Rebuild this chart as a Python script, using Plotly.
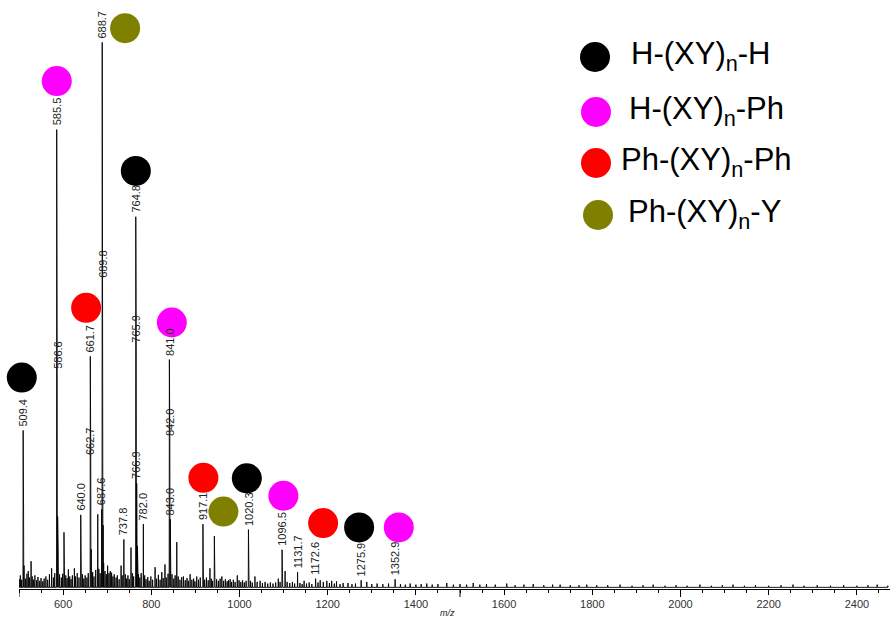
import plotly.graph_objects as go

# ---------------- data ----------------
peak_mz = [500.5, 503, 506, 509.4, 510.4, 511.4, 515, 518, 521, 524, 527.4, 530, 533, 536, 540, 543, 547, 550,
           554, 557, 561, 565, 569, 574, 578, 581, 585.5, 586.6, 587.6, 589, 592, 596, 599, 602, 603, 606, 609,
           612, 615, 618, 621, 625.6, 628, 632, 636, 640.0, 641, 644, 647, 650, 654, 657, 661.7, 662.7, 663.7,
           667, 670, 674, 678.6, 681, 684, 687.6, 688.7, 689.8, 690.8, 692, 695, 698, 701, 704, 707, 710, 713,
           716, 720, 723, 727, 731.5, 734, 737.8, 741, 744, 747, 750, 754, 757, 760, 764.8, 765.9, 766.9, 768.5,
           771, 774, 777, 782.0, 785, 788, 792, 795, 799, 803, 808.6, 812, 816, 820, 823.8, 827, 831, 834, 838,
           841.0, 842.0, 843.0, 844, 847, 851, 854, 857.8, 861, 865, 869, 873, 877, 881, 884, 888, 892, 896, 899,
           903, 907, 911, 917.1, 918, 921, 925, 929, 933, 936, 939, 943, 944, 948, 952, 956, 960, 964, 968, 972,
           975, 978.7, 982, 986, 990, 995, 999, 1003, 1007, 1011, 1015, 1020.3, 1021.3, 1025, 1029, 1035, 1040,
           1046.7, 1052, 1058, 1064, 1070, 1076, 1082, 1088, 1092, 1096.5, 1097.5, 1103.4, 1108, 1114, 1120, 1125,
           1131.7, 1137, 1142, 1146.5, 1152, 1158, 1164, 1172.6, 1178, 1183, 1190, 1198, 1204, 1209, 1215, 1220,
           1228, 1235, 1246, 1255, 1263, 1275.9, 1288.6, 1300, 1312, 1325, 1338, 1352.9, 1365, 1376, 1387, 1400,
           1412, 1424.7, 1437, 1450, 1470, 1485, 1500, 1515, 1530, 1545, 1560, 1580, 1606, 1625, 1645, 1666, 1690,
           1710, 1727, 1750, 1770, 1787.5, 1810, 1835, 1863, 1890, 1915, 1938, 1965, 1990, 2015, 2044, 2070, 2095,
           2119, 2145, 2170, 2200, 2228, 2255, 2280, 2310, 2340, 2370, 2400, 2425, 2446, 2470]
peak_rel = [1.5, 2.2, 1.4, 28.8, 13.1, 4.0, 1.6, 2.5, 3.0, 1.8, 4.8, 2.0, 1.4, 2.2, 1.3, 1.9, 1.2, 1.7,
            1.1, 1.6, 2.0, 1.4, 2.4, 3.5, 1.8, 2.6, 84.0, 39.4, 13.0, 6.7, 2.4, 1.8, 2.5, 10.1, 4.0, 2.2, 1.7,
            3.3, 2.0, 1.5, 2.2, 3.5, 2.0, 2.6, 1.8, 13.3, 5.0, 2.4, 1.6, 2.2, 1.8, 2.6, 42.4, 23.5, 7.0,
            2.8, 2.0, 3.2, 13.4, 3.4, 2.6, 14.3, 100.0, 56.0, 11.4, 4.5, 3.0, 2.4, 4.0, 2.6, 3.0, 2.7, 2.0,
            2.4, 1.8, 2.2, 1.5, 4.0, 2.2, 8.8, 2.4, 1.6, 2.2, 1.5, 7.3, 2.6, 2.0, 68.0, 44.2, 19.1, 7.6,
            2.4, 1.8, 2.6, 11.6, 2.2, 1.5, 1.9, 1.2, 2.0, 1.4, 3.7, 1.6, 2.3, 1.4, 2.8, 1.7, 4.2, 1.8, 2.5,
            41.8, 27.0, 12.5, 4.5, 2.4, 1.6, 2.2, 8.3, 2.0, 1.4, 1.9, 2.0, 1.3, 1.7, 1.2, 2.4, 1.4, 1.6, 1.1,
            2.0, 1.4, 1.8, 11.6, 3.5, 1.4, 1.8, 1.3, 3.5, 1.6, 1.2, 9.4, 3.0, 1.5, 1.2, 1.6, 2.0, 1.2, 1.5, 1.1,
            1.3, 1.5, 1.0, 1.4, 1.0, 2.2, 1.3, 1.0, 1.3, 0.9, 1.2, 10.6, 3.5, 1.2, 0.9, 2.0, 1.0,
            1.2, 0.8, 1.0, 0.7, 0.9, 0.7, 0.9, 1.6, 1.0, 6.9, 2.5, 3.0, 1.0, 0.8, 1.0, 0.7,
            2.8, 0.8, 0.6, 1.2, 0.7, 0.9, 0.6, 1.6, 0.9, 1.3, 1.0, 1.2, 0.8, 1.2, 0.7, 1.1,
            0.6, 0.8, 0.8, 0.6, 0.7, 1.3, 1.0, 0.6, 0.7, 0.6, 0.7, 1.5, 0.6, 0.5, 0.7, 0.5,
            0.6, 0.7, 0.5, 0.6, 0.8, 0.5, 0.6, 0.5, 0.8, 0.5, 0.6, 0.5, 0.7, 0.4, 0.5, 0.6, 0.4,
            0.5, 0.5, 0.4, 0.4, 0.5, 0.4, 0.4, 0.5, 0.3, 0.4, 0.5, 0.3, 0.4, 0.3, 0.5, 0.3, 0.4,
            0.5, 0.3, 0.4, 0.3, 0.4, 0.5, 0.3, 0.4, 0.3, 0.4, 0.3, 0.4, 0.5, 0.3]

label_mz = [509.4, 585.5, 586.6, 640.0, 661.7, 662.7, 687.6, 688.7, 689.8, 737.8, 764.8, 765.9, 766.9, 782.0,
            841.0, 842.0, 843.0, 917.1, 1020.3, 1096.5, 1131.7, 1172.6, 1275.9, 1352.9]

species_names = ["H-(XY)<sub>n</sub>-H", "H-(XY)<sub>n</sub>-Ph", "Ph-(XY)<sub>n</sub>-Ph", "Ph-(XY)<sub>n</sub>-Y"]
species_colors = ["#000000", "#FF00FF", "#FF0000", "#808000"]
species_mz = [[506.3, 764.9, 1016.6, 1271.2],
              [585.7, 846.5, 1099.5, 1361.2],
              [652.2, 918.1, 1189.6],
              [740.6, 963.5]]
species_y = [[38.5, 76.4, 20.0, 11.0],
             [92.9, 48.6, 16.8, 11.0],
             [51.3, 20.1, 11.8],
             [102.6, 13.9]]

x_ticks = [600, 800, 1000, 1200, 1400, 1600, 1800, 2000, 2200, 2400]
x_long_ticks = [500, 1000, 1500, 2000]

# ---------------- figure ----------------
W, H = 890, 621
L, R, T, B = 19, 0, 0, 32
PW, PH = W - L - R, H - T - B

def px_x(px):
    return (px - L) / PW

def px_y(py):
    return (H - B - py) / PH

# spectrum as a connected stick profile
order = sorted(range(len(peak_mz)), key=lambda i: peak_mz[i])
xs, ys = [], []
for i in order:
    m, h = peak_mz[i], peak_rel[i]
    xs += [m - 0.45, m, m + 0.45]
    ys += [0, h, 0]

fig = go.Figure()
fig.add_trace(go.Scatter(x=xs, y=ys, mode="lines", line=dict(color="#000000", width=0.9),
                         hoverinfo="skip", showlegend=False))

for name, col, mx, my in zip(species_names, species_colors, species_mz, species_y):
    fig.add_trace(go.Scatter(x=mx, y=my, mode="markers", cliponaxis=False,
                             marker=dict(size=30, color=col, line=dict(width=0)),
                             name=name, showlegend=False))

# peak labels
annotations = []
for lm in label_mz:
    idx = min(range(len(peak_mz)), key=lambda i: abs(peak_mz[i] - lm))
    annotations.append(dict(x=lm, y=peak_rel[idx], xref="x", yref="y", text=f"{lm:.1f}",
                            textangle=-90, showarrow=False, xanchor="center", yanchor="bottom",
                            yshift=2, font=dict(family="Liberation Sans, Arial", size=11, color="#222222")))

# legend (manual)
leg_cx = [595, 596, 596, 598]
leg_cy = [57, 112, 163, 215]
leg_tx = [629, 627, 619, 626]
shapes = []
for name, col, cx, cy, tx in zip(species_names, species_colors, leg_cx, leg_cy, leg_tx):
    shapes.append(dict(type="circle", xref="paper", yref="paper",
                       x0=px_x(cx - 15), x1=px_x(cx + 15), y0=px_y(cy + 15), y1=px_y(cy - 15),
                       fillcolor=col, line=dict(width=0)))
    annotations.append(dict(x=px_x(tx), y=px_y(cy), xref="paper", yref="paper", text=name,
                            showarrow=False, xanchor="left", yanchor="middle", yshift=1,
                            font=dict(family="Liberation Sans, Arial", size=31, color="#000000")))

# longer tick marks every 500
for t in x_long_ticks:
    shapes.append(dict(type="line", xref="x", yref="paper", x0=t, x1=t, y0=0, y1=-8 / PH,
                       line=dict(color="#000000", width=1)))

annotations.append(dict(x=px_x(447), y=px_y(613), xref="paper", yref="paper", text="<i>m/z</i>",
                        showarrow=False, xanchor="center", yanchor="middle",
                        font=dict(family="Liberation Sans, Arial", size=9, color="#222222")))

fig.update_layout(
    width=W, height=H, margin=dict(l=L, r=R, t=T, b=B),
    paper_bgcolor="white", plot_bgcolor="white",
    showlegend=False,
    annotations=annotations, shapes=shapes,
    xaxis=dict(range=[500, 500 + PW / 0.441], tickvals=x_ticks, ticks="outside", ticklen=5,
               tickcolor="#000000", tickwidth=1, showgrid=False, zeroline=False,
               showline=True, linecolor="#000000", linewidth=1,
               tickfont=dict(family="Liberation Sans, Arial", size=11, color="#333333"),
               minor=dict(dtick=50, tick0=500, ticks="outside", ticklen=3, tickcolor="#000000")),
    yaxis=dict(range=[-0.3, PH / 5.45 - 0.3], visible=False, showgrid=False, zeroline=False),
)

fig.write_html("out.html")
